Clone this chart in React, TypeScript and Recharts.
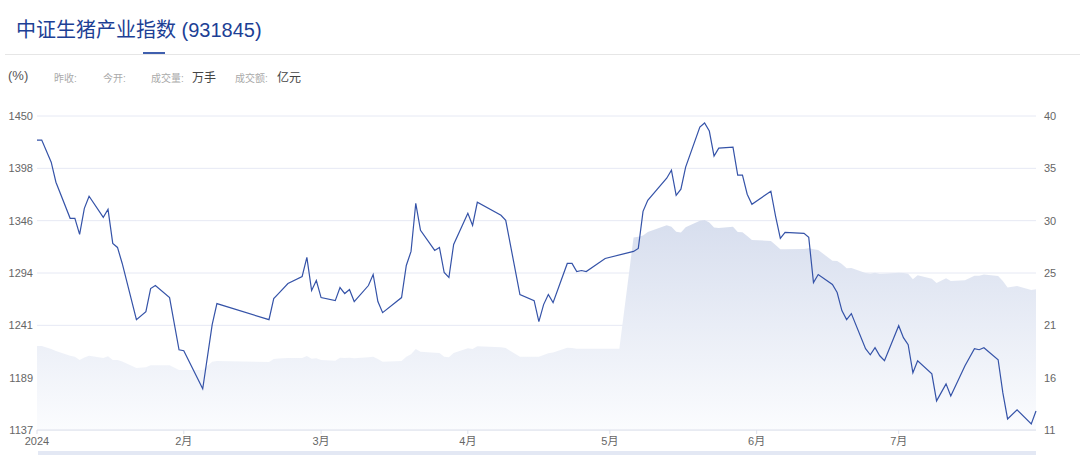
import { ComposedChart, Line, Area, XAxis, YAxis, CartesianGrid } from 'recharts';

// trading dates (MM-DD, 2024)
const dates = [
  '01-01', '01-02', '01-04', '01-05', '01-08', '01-09', '01-10', '01-11', '01-12', '01-15',
  '01-16', '01-17', '01-18', '01-19', '01-22', '01-24', '01-25', '01-26', '01-29', '01-31',
  '02-01', '02-05', '02-07', '02-08', '02-19', '02-20', '02-21', '02-23', '02-26', '02-27',
  '02-28', '02-29', '03-01', '03-04', '03-05', '03-06', '03-07', '03-08', '03-11', '03-12',
  '03-13', '03-14', '03-18', '03-19', '03-20', '03-21', '03-22', '03-25', '03-26', '03-27',
  '03-28', '03-29', '04-01', '04-02', '04-03', '04-08', '04-09', '04-12', '04-15', '04-16',
  '04-17', '04-18', '04-19', '04-22', '04-23', '04-24', '04-25', '04-26', '04-30', '05-03',
  '05-06', '05-07', '05-08', '05-09', '05-13', '05-14', '05-15', '05-16', '05-17', '05-20',
  '05-21', '05-22', '05-23', '05-24', '05-27', '05-28', '05-29', '05-30', '05-31', '06-04',
  '06-05', '06-06', '06-07', '06-11', '06-12', '06-13', '06-14', '06-17', '06-18', '06-19',
  '06-20', '06-21', '06-24', '06-25', '06-26', '06-27', '06-28', '07-01', '07-02', '07-03',
  '07-04', '07-05', '07-08', '07-09', '07-11', '07-12', '07-15', '07-17', '07-18', '07-19',
  '07-22', '07-23', '07-24', '07-26', '07-29', '07-30',
];

// index level (left axis)
const indexValues = [
  1426, 1426, 1404, 1384, 1348, 1348, 1332, 1358, 1370, 1349,
  1357, 1323, 1319, 1303, 1247, 1255, 1278, 1281, 1269, 1217,
  1216, 1178, 1242, 1263, 1247, 1268, 1273, 1283, 1290, 1309,
  1276, 1286, 1269, 1266, 1279, 1273, 1277, 1265, 1281, 1292,
  1265, 1254, 1269, 1301, 1315, 1363, 1336, 1316, 1319, 1294,
  1289, 1322, 1353, 1341, 1364, 1351, 1346, 1272, 1266, 1245,
  1262, 1272, 1264, 1303, 1303, 1295, 1296, 1295, 1308, null,
  1315, 1318, 1355, 1366, 1388, 1396, 1371, 1377, 1399, 1439,
  1443, 1435, 1410, 1418, 1419, 1391, 1391, 1372, 1362, 1375,
  1350, 1328, 1334, 1333, 1329, 1284, 1292, 1282, 1274, 1256,
  1247, 1253, 1218, 1212, 1219, 1211, 1206, 1241, 1229, 1222,
  1194, 1206, 1193, 1166, 1183, 1171, 1201, 1218, 1217, 1219,
  1207, 1174, 1148, 1157, 1143, 1156,
];

// shaded series (right axis)
const areaValues = [
  18.76, 18.76, 18.48, 18.3, 17.86, 17.77, 17.47, 17.7, 17.86, 17.65,
  17.81, 17.47, 17.47, 17.33, 16.73, 16.79, 16.98, 16.98, 16.98, 16.54,
  16.54, 16.54, 17.31, 17.37, 17.28, 17.56, 17.6, 17.65, 17.65, 17.83,
  17.59, 17.62, 17.47, 17.4, 17.68, 17.65, 17.68, 17.62, 17.71, 17.77,
  17.56, 17.31, 17.37, 17.77, 17.99, 18.48, 18.23, 18.14, 18.11, 17.77,
  17.71, 18.11, 18.55, 18.48, 18.73, 18.64, 18.57, 17.77, 17.77, 17.77,
  17.93, 18.08, 18.16, 18.6, 18.57, 18.51, 18.51, 18.51, 18.51, 18.51,
  28.78, 28.84, 28.96, 29.29, 29.91, 29.78, 29.31, 29.24, 29.72, 30.33,
  30.4, 30.16, 29.7, 29.66, 29.78, 29.29, 29.26, 28.92, 28.55, 28.46,
  28.09, 27.69, 27.69, 27.72, 27.78, 27.69, 27.62, 26.64, 26.61, 26.33,
  25.93, 25.96, 25.5, 25.44, 25.53, 25.41, 25.44, 25.53, 25.5, 25.44,
  24.92, 25.29, 24.97, 24.58, 25.01, 24.76, 24.83, 25.25, 25.25, 25.36,
  25.22, 24.76, 24.16, 24.3, 23.93, 24.0,
];

const xTickDates = ['01-01', '02-01', '03-01', '04-01', '05-01', '06-01', '07-01'];
const xTickLabels = ['2024', '2月', '3月', '4月', '5月', '6月', '7月'];
const leftTickLabels = ['1137', '1189', '1241', '1294', '1346', '1398', '1450'];
const rightTickLabels = ['11', '16', '21', '25', '30', '35', '40'];

const LEFT_MIN = 1137, LEFT_MAX = 1450;
const RIGHT_MIN = 11, RIGHT_MAX = 40;

const dayOf = (s: string) => {
  const [m, d] = s.split('-').map(Number);
  return (Date.UTC(2024, m - 1, d) - Date.UTC(2024, 0, 1)) / 86400000;
};

const chartData = dates.map((d, i) => ({
  day: dayOf(d),
  price: indexValues[i],
  amount: areaValues[i],
}));

const xTicks = xTickDates.map(dayOf);
const leftTicks = leftTickLabels.map((_, i) => LEFT_MIN + (i * (LEFT_MAX - LEFT_MIN)) / 6);
const rightTicks = rightTickLabels.map((_, i) => RIGHT_MIN + (i * (RIGHT_MAX - RIGHT_MIN)) / 6);

const FONT = '"Liberation Sans", Arial, "Noto Sans CJK SC", sans-serif';
const tickStyle = { fontSize: 11, fill: '#666', fontFamily: FONT };

export default function App() {
  return (
    <div style={{ position: 'absolute', left: 0, top: 0, width: 1080, height: 455, background: '#fff', fontFamily: FONT, overflow: 'hidden' }}>
      <div style={{ position: 'absolute', left: 16, top: 14, fontSize: 20, color: '#1d3f95', whiteSpace: 'nowrap' }}>
        中证生猪产业指数 (931845)
      </div>
      <div style={{ position: 'absolute', left: 5, right: 0, top: 54, height: 1, background: '#e6e6e6' }} />
      <div style={{ position: 'absolute', left: 143, width: 22, top: 52, height: 2, background: '#3f5fae' }} />

      <div style={{ position: 'absolute', left: 8, top: 68, fontSize: 13, color: '#555' }}>(%)</div>
      <div style={{ position: 'absolute', left: 54, top: 70, fontSize: 10, color: '#aaa' }}>昨收:</div>
      <div style={{ position: 'absolute', left: 103, top: 70, fontSize: 10, color: '#aaa' }}>今开:</div>
      <div style={{ position: 'absolute', left: 151, top: 70, fontSize: 10, color: '#aaa' }}>成交量:</div>
      <div style={{ position: 'absolute', left: 192, top: 68, fontSize: 12, color: '#444' }}>万手</div>
      <div style={{ position: 'absolute', left: 235, top: 70, fontSize: 10, color: '#aaa' }}>成交额:</div>
      <div style={{ position: 'absolute', left: 277, top: 68, fontSize: 12, color: '#444' }}>亿元</div>

      <div style={{ position: 'absolute', left: 0, top: 0 }}>
        <ComposedChart width={1080} height={455} data={chartData} margin={{ top: 116, right: 0, left: 0, bottom: 0 }}>
          <defs>
            <linearGradient id="amtFill" x1="0" y1="0" x2="0" y2="1">
              <stop offset="0%" stopColor="#d7deee" />
              <stop offset="100%" stopColor="#fbfcfe" />
            </linearGradient>
          </defs>
          <CartesianGrid vertical={false} stroke="#e6e9f4" yAxisId="left" />
          <XAxis
            dataKey="day"
            type="number"
            domain={[0, 211]}
            ticks={xTicks}
            tickFormatter={(v: number) => xTickLabels[xTicks.indexOf(v)] ?? ''}
            tick={tickStyle}
            tickSize={4}
            tickMargin={3}
            height={25}
            stroke="#dde1ec"
            interval={0}
          />
          <YAxis
            yAxisId="left"
            orientation="left"
            domain={[LEFT_MIN, LEFT_MAX]}
            ticks={leftTicks}
            tickFormatter={(v: number) => leftTickLabels[leftTicks.indexOf(v)] ?? ''}
            tick={tickStyle}
            axisLine={false}
            tickLine={false}
            tickSize={2}
            tickMargin={2}
            width={37}
            interval={0}
          />
          <YAxis
            yAxisId="right"
            orientation="right"
            domain={[RIGHT_MIN, RIGHT_MAX]}
            ticks={rightTicks}
            tickFormatter={(v: number) => rightTickLabels[rightTicks.indexOf(v)] ?? ''}
            tick={tickStyle}
            axisLine={false}
            tickLine={false}
            tickSize={6}
            tickMargin={2}
            width={44}
            interval={0}
          />
          <Area
            yAxisId="right"
            type="linear"
            dataKey="amount"
            stroke="none"
            fill="url(#amtFill)"
            fillOpacity={1}
            connectNulls
            dot={false}
            activeDot={false}
            isAnimationActive={false}
          />
          <Line
            yAxisId="left"
            type="linear"
            dataKey="price"
            stroke="#3553a8"
            strokeWidth={1.2}
            dot={false}
            activeDot={false}
            connectNulls
            isAnimationActive={false}
          />
        </ComposedChart>
      </div>
      <div style={{ position: 'absolute', left: 38, width: 998, top: 451, height: 4, background: '#e3e8f4' }} />
    </div>
  );
}
